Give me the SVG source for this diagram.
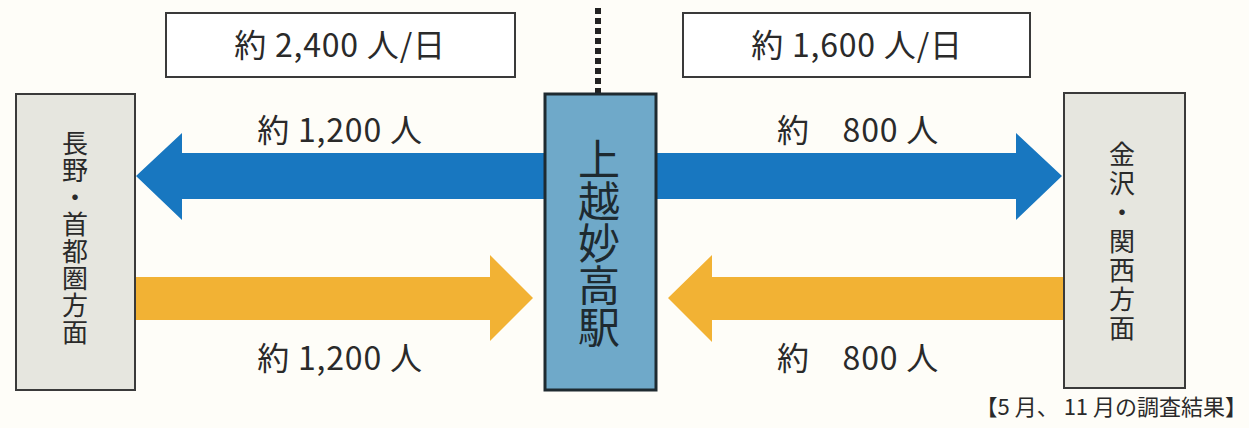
<svg xmlns="http://www.w3.org/2000/svg" width="1249" height="428" viewBox="0 0 1249 428">
<style>
.lbl{font-family:"Noto Sans CJK JP","Liberation Sans",sans-serif;font-size:32px;letter-spacing:0.8px;fill:#2a2a2a;text-anchor:middle}
.vt{font-family:"Noto Sans CJK JP",sans-serif;font-size:26px;fill:#2a2a2a;text-anchor:middle;writing-mode:vertical-rl}
.st{font-family:"Noto Sans CJK JP",sans-serif;font-size:42px;fill:#1e2a30;text-anchor:middle;writing-mode:vertical-rl}
.side{fill:#e6e6df;stroke:#3a3a3a;stroke-width:2}
.tbox{fill:#ffffff;stroke:#3a3a3a;stroke-width:2}
.blue{fill:#1877c0}
.orange{fill:#f2b234}
</style>
<rect width="1249" height="428" fill="#fefdf8"/>
<g id="connectors">
<line x1="598" y1="8" x2="598" y2="94" stroke="#222" stroke-width="6" stroke-dasharray="6,4"/>
<polygon class="blue" points="546,153 182,153 182,133 136,176 182,220 182,199 546,199"/>
<polygon class="blue" points="655,153 1016,153 1016,133 1062,176 1016,220 1016,199 655,199"/>
<polygon class="orange" points="136,277 490,277 490,255 533,298 490,341 490,320 136,320"/>
<polygon class="orange" points="1064,277 712,277 712,255 668,298 712,342 712,320 1064,320"/>
</g>
<g id="total-left"><rect class="tbox" x="166" y="13" width="349" height="64"/><text class="lbl" x="340" y="57">約 2,400 人/日</text></g>
<g id="total-right"><rect class="tbox" x="683" y="13" width="347" height="64"/><text class="lbl" x="857" y="57">約 1,600 人/日</text></g>
<g id="nagano"><rect class="side" x="16" y="94" width="119" height="296"/>
<text class="vt" x="75" y="238" letter-spacing="1">長野・首都圏方面</text></g>
<g id="station"><rect x="545" y="94" width="111" height="296" fill="#6fa9c9" stroke="#1e2a30" stroke-width="3"/>
<text class="st" x="599" y="243">上越妙高駅</text></g>
<g id="kanazawa"><rect class="side" x="1064" y="93" width="121" height="295"/>
<text class="vt" x="1122" y="243" letter-spacing="3">金沢・関西方面</text></g>
<g id="labels">
<text class="lbl" x="340" y="142">約 1,200 人</text>
<text class="lbl" x="858" y="142">約　800 人</text>
<text class="lbl" x="340" y="370">約 1,200 人</text>
<text class="lbl" x="858" y="370">約　800 人</text>
<text x="1247" y="415" font-family="Noto Sans CJK JP,sans-serif" font-size="22" fill="#2a2a2a" text-anchor="end">【5 月、 11 月の調査結果】</text>
</g>
</svg>
